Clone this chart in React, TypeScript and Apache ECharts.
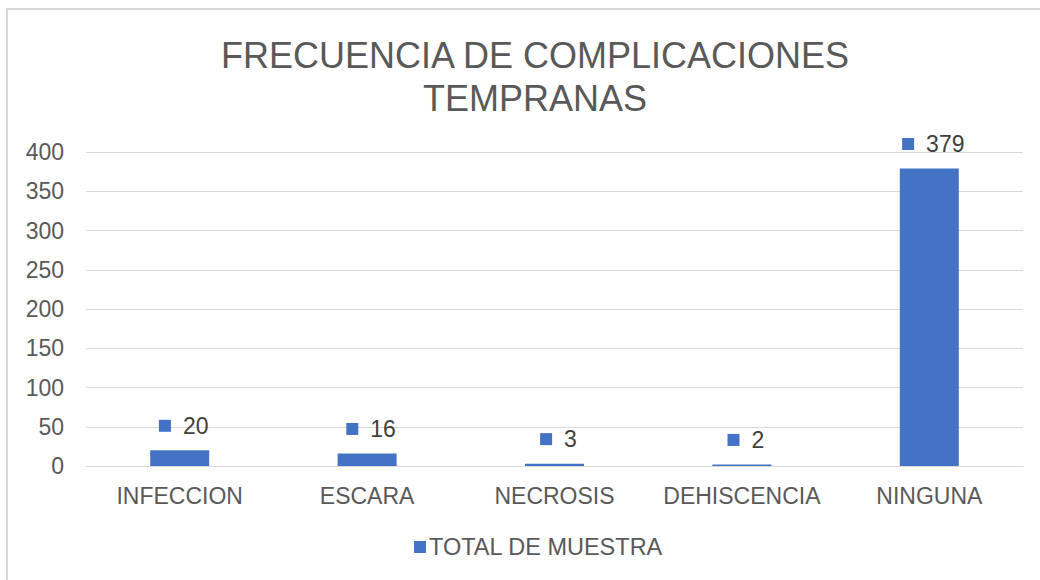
import React, { useEffect, useRef } from "react";
import * as echarts from "echarts";

const titleLines = ["FRECUENCIA DE COMPLICACIONES", "TEMPRANAS"];
const categories = ["INFECCION", "ESCARA", "NECROSIS", "DEHISCENCIA", "NINGUNA"];
const seriesName = "TOTAL DE MUESTRA";
const values = [20, 16, 3, 2, 379];
const yMin = 0;
const yMax = 400;
const yInterval = 50;

const BLUE = "#4472C4";
const GRAY = "#595959";
const FONT = "Liberation Sans, Arial, sans-serif";

export default function App() {
  const ref = useRef<HTMLDivElement>(null);
  useEffect(() => {
    if (!ref.current) return;
    const chart = echarts.init(ref.current, null, { renderer: "svg" });
    chart.setOption({
      animation: false,
      backgroundColor: "#ffffff",
      textStyle: { fontFamily: FONT },
      graphic: [
        {
          type: "rect",
          shape: { x: 7, y: 9, width: 1200, height: 1000 },
          style: { fill: "none", stroke: "#d9d9d9", lineWidth: 2 },
          silent: true,
          z: -10,
        },
      ],
      title: {
        text: titleLines.join("\n"),
        left: 530,
        textAlign: "center",
        top: 29,
        textStyle: {
          fontFamily: FONT,
          fontSize: 36,
          fontWeight: "normal",
          color: GRAY,
          lineHeight: 43,
        },
      },
      legend: {
        bottom: 16,
        left: 409,
        itemWidth: 12,
        itemHeight: 12,
        itemGap: 10,
        icon: "rect",
        textStyle: { fontFamily: FONT, fontSize: 23.5, color: GRAY, padding: [0, 0, 0, -2] },
        data: [seriesName],
      },
      grid: { left: 86, right: 17, top: 152, bottom: 114, containLabel: false },
      xAxis: {
        type: "category",
        data: categories,
        axisLine: { show: true, lineStyle: { color: "#d9d9d9", width: 1 } },
        axisTick: { show: false },
        axisLabel: { fontFamily: FONT, fontSize: 23, color: GRAY, margin: 18, interval: 0 },
      },
      yAxis: {
        type: "value",
        min: yMin,
        max: yMax,
        interval: yInterval,
        axisLine: { show: false },
        axisTick: { show: false },
        splitLine: { lineStyle: { color: "#d9d9d9", width: 1 } },
        axisLabel: { fontFamily: FONT, fontSize: 23, color: GRAY, margin: 22 },
      },
      series: [
        {
          name: seriesName,
          type: "bar",
          data: values,
          barWidth: 59,
          itemStyle: { color: BLUE },
          label: {
            show: true,
            position: "top",
            distance: 13,
            offset: [4, 0],
            formatter: (p: any) => `{s|}{v|${p.value}}`,
            rich: {
              s: { width: 12, height: 12, backgroundColor: BLUE },
              v: { fontFamily: FONT, fontSize: 23, color: "#404040", padding: [0, 0, 0, 12] },
            },
          },
        },
      ],
    });
    return () => chart.dispose();
  }, []);
  return (
    <div
      ref={ref}
      style={{ position: "absolute", left: 0, top: 0, width: 1040, height: 580 }}
    />
  );
}
